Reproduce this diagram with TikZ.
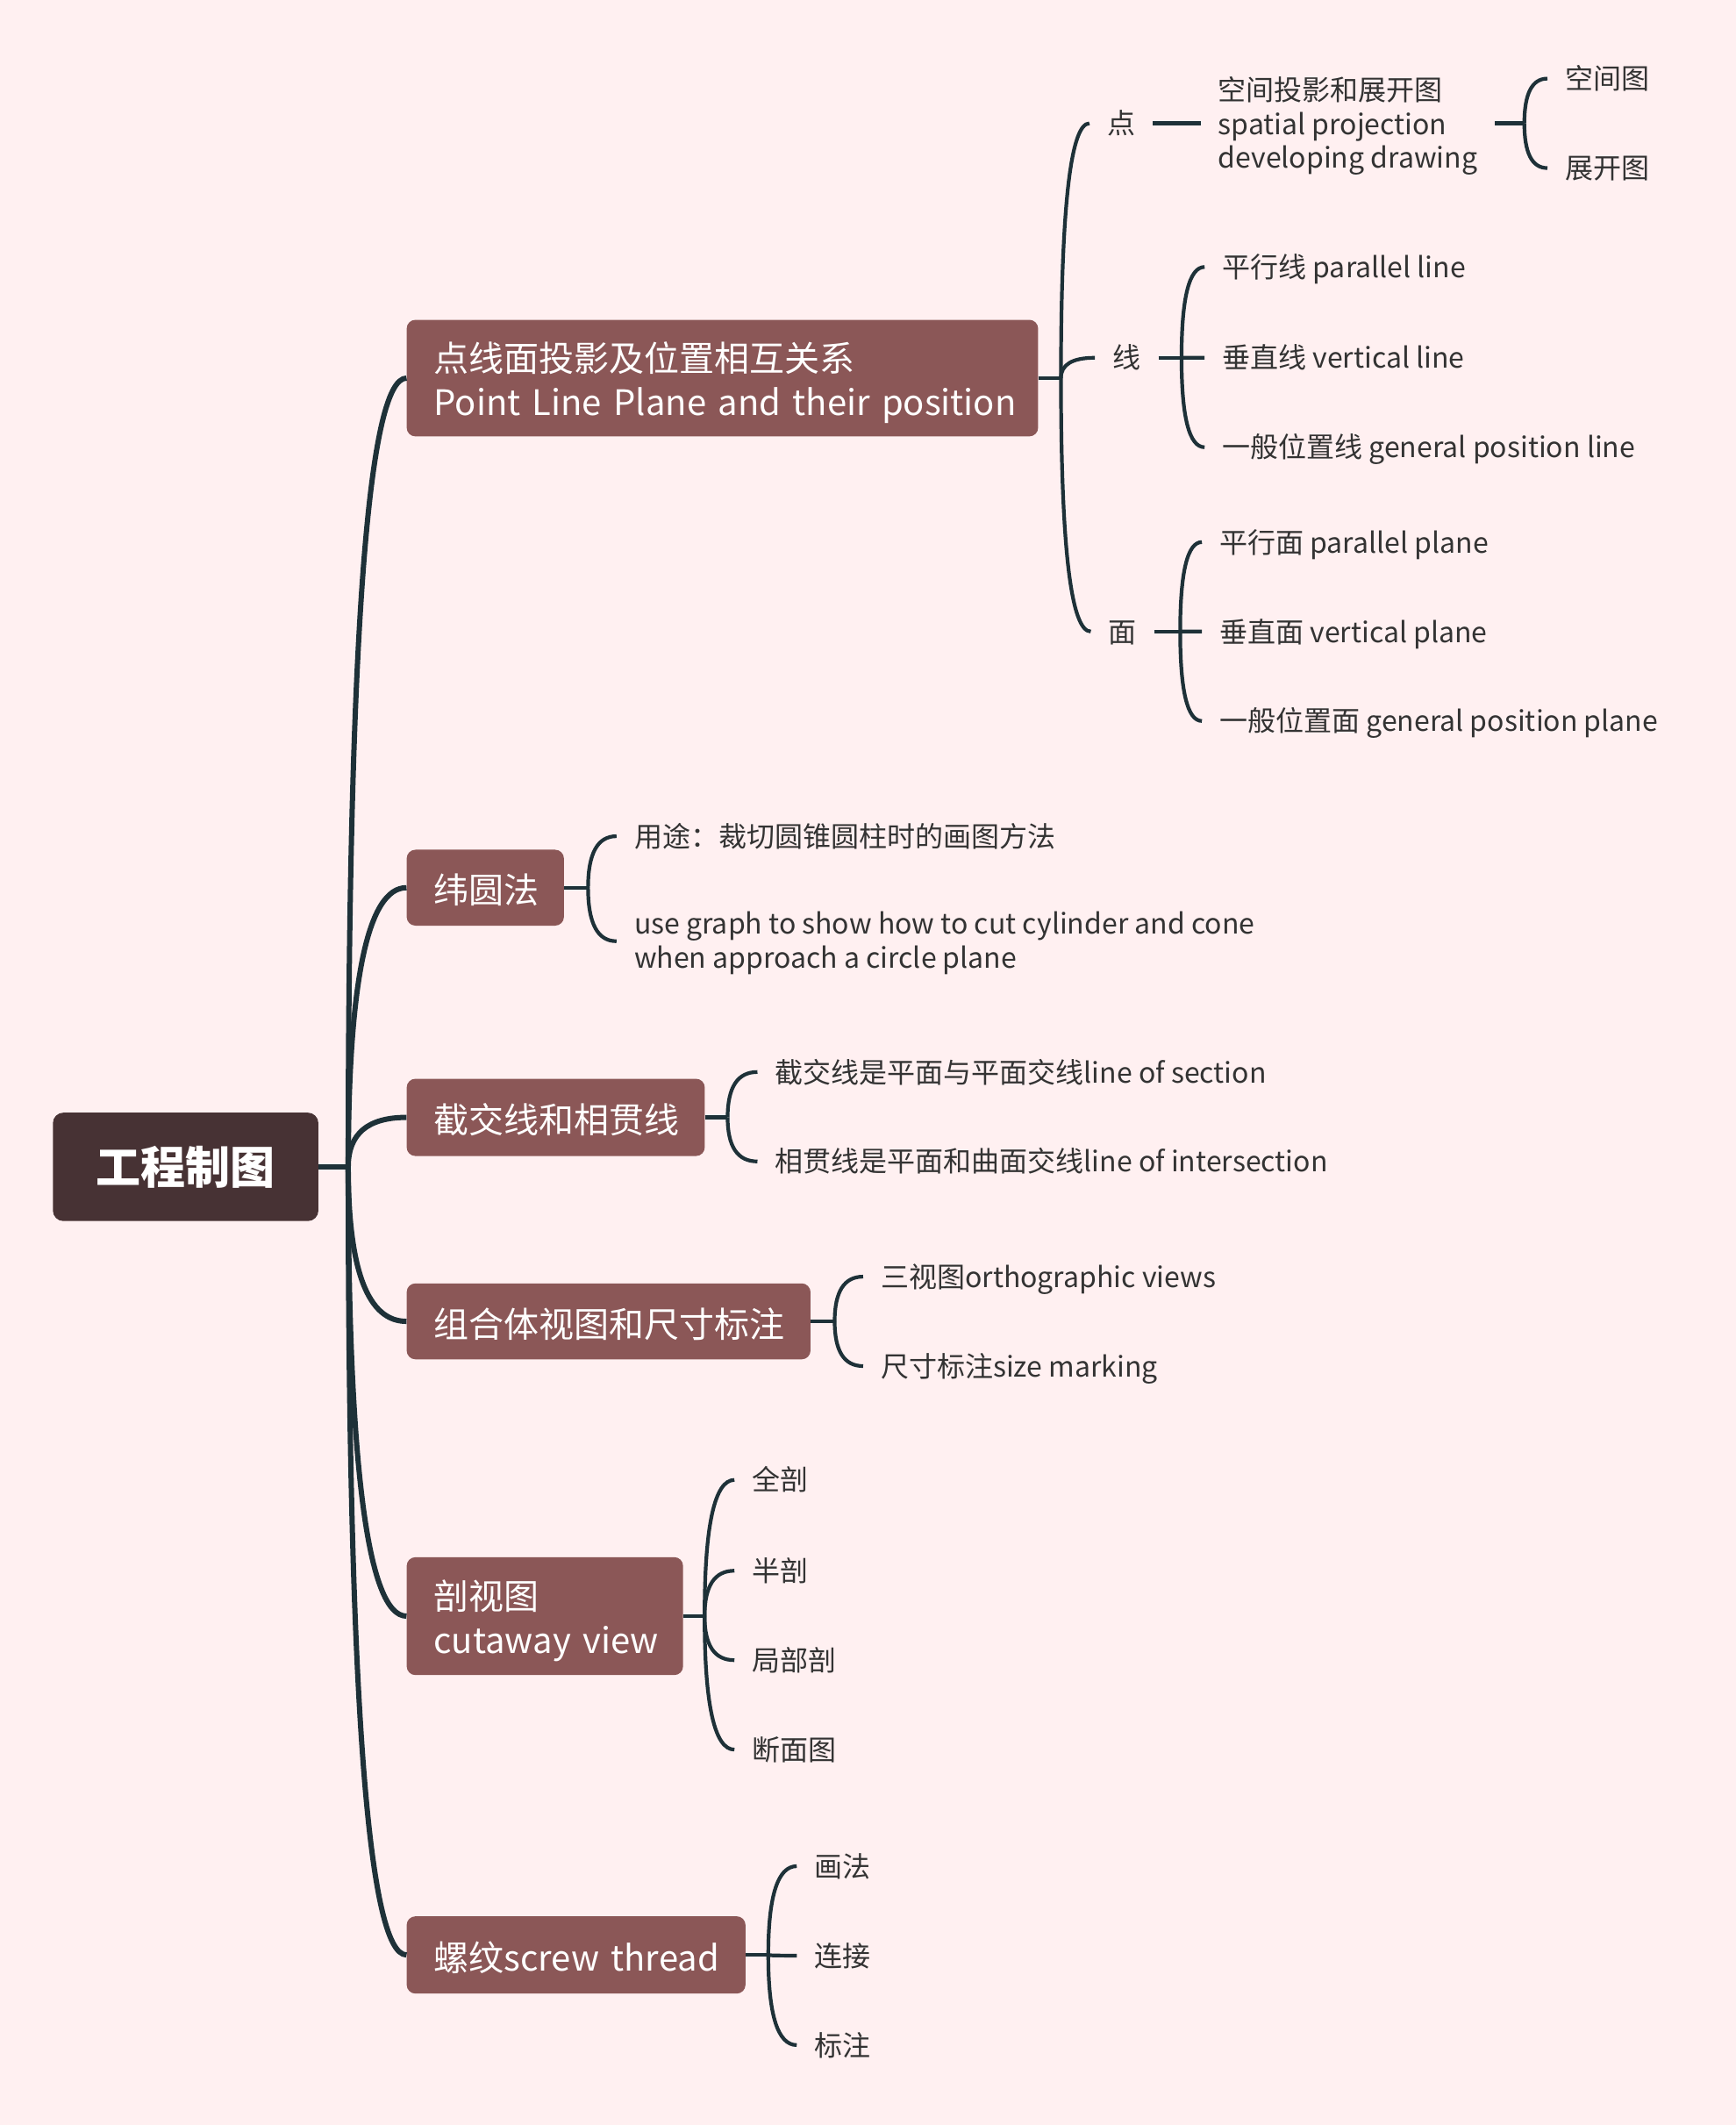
\documentclass[tikz,border=0pt]{standalone}
\usepackage{fontspec}
\setmainfont{Noto Sans CJK SC}
\usetikzlibrary{calc}
\definecolor{bgc}{RGB}{255,240,241}
\definecolor{brc}{RGB}{139,87,87}
\definecolor{rtc}{RGB}{71,50,52}
\definecolor{lnc}{RGB}{30,49,56}
\definecolor{txc}{RGB}{51,51,51}
\newcommand\qconn[3][]{\draw[#1] (#2) .. controls ($(#2)!0.6667!(#2 |- #3)$) and ($(#3)!0.6667!(#2 |- #3)$) .. (#3);}
\begin{document}
\begin{tikzpicture}[x=1.5441pt,y=-1.5441pt,
  rootbox/.style={fill=rtc, rounded corners=12pt, text=white,
    font=\fontsize{51}{60}\selectfont\bfseries, minimum width=302.6pt,
    minimum height=123.5pt, inner sep=0pt},
  brbox/.style={fill=brc, rounded corners=10pt, text=white,
    font=\fontsize{40}{49.4}\selectfont, inner xsep=30.9pt, inner ysep=0pt,
    anchor=west, align=left},
  brone/.style={brbox, text height=41pt, text depth=4.8pt},
  leaf/.style={text=txc, font=\fontsize{32}{38.6}\selectfont,
    inner xsep=20pt, inner ysep=0pt, anchor=west, align=left},
  leafone/.style={leaf, text height=28.2pt, text depth=3.8pt},
  rootline/.style={draw=lnc, line width=6pt},
  subline/.style={draw=lnc, line width=4.2pt}]
\fill[bgc] (0,0) rectangle (1281,1568);
\useasboundingbox (0,0) rectangle (1281,1568);

% root
\node[rootbox] (root) at (137,861) {工程制图};

% branches
\node[brbox, text width=657.8pt, minimum height=132.8pt] (b1) at (300,279)
  {\rule{0pt}{44pt}\mbox{点线面投影及位置相互关系}\\\mbox{Point Line Plane and their position}};
\node[brone, text width=117.4pt, minimum height=86.5pt] (b2) at (300,655) {\mbox{纬圆法}};
\node[brone, text width=277.9pt, minimum height=88pt] (b3) at (300,824.5) {\mbox{截交线和相贯线}};
\node[brone, text width=398.4pt, minimum height=86.5pt] (b4) at (300,975) {\mbox{组合体视图和尺寸标注}};
\node[brbox, text width=253.2pt, minimum height=134.3pt] (b5) at (300,1192.5)
  {\rule{0pt}{44pt}\mbox{剖视图}\\\mbox{cutaway view}};
\node[brone, text width=324.3pt, minimum height=88pt] (b6) at (300,1442.5) {\mbox{螺纹screw thread}};

% junctions
\coordinate (J0) at (257,861);
\coordinate (J1) at (783,279);
\coordinate (Jx) at (872,264);
\coordinate (Jm) at (871,466);
\coordinate (Jk) at (1125,91);
\coordinate (J2) at (434,655);
\coordinate (J3) at (537,824.5);
\coordinate (J4) at (616,975);
\coordinate (J5) at (520,1192.5);
\coordinate (J6) at (567,1442.5);

% level 2 of b1
\node[leafone] (dian) at (804,91) {点};
\node[leafone] (xian) at (808,264) {线};
\node[leafone] (mian) at (805,466) {面};
\node[leaf] (kj) at (886,91) {\rule{0pt}{33pt}空间投影和展开图\\spatial projection\\developing drawing};
\node[leafone] (kjt) at (1142,58) {空间图};
\node[leafone] (zkt) at (1142,124) {展开图};
\node[leafone] (l1) at (889,197) {平行线 parallel line};
\node[leafone] (l2) at (889,264) {垂直线 vertical line};
\node[leafone] (l3) at (889,330) {一般位置线 general position line};
\node[leafone] (m1) at (887,400) {平行面 parallel plane};
\node[leafone] (m2) at (887,466) {垂直面 vertical plane};
\node[leafone] (m3) at (887,532) {一般位置面 general position plane};

% b2
\node[leafone] (w1) at (455,617) {用途：裁切圆锥圆柱时的画图方法};
\node[leaf] (w2) at (455,694.5) {\rule{0pt}{30pt}use graph to show how to cut cylinder and cone\\when approach a circle plane};
% b3
\node[leafone] (s1) at (559,791) {截交线是平面与平面交线line of section};
\node[leafone] (s2) at (559,857) {相贯线是平面和曲面交线line of intersection};
% b4
\node[leafone] (z1) at (637,942) {三视图orthographic views};
\node[leafone] (z2) at (637,1008) {尺寸标注size marking};
% b5
\node[leafone] (c1) at (542,1092) {全剖};
\node[leafone] (c2) at (542,1159) {半剖};
\node[leafone] (c3) at (542,1225) {局部剖};
\node[leafone] (c4) at (542,1291) {断面图};
% b6
\node[leafone] (t1) at (588,1377) {画法};
\node[leafone] (t2) at (588,1443) {连接};
\node[leafone] (t3) at (588,1509) {标注};

% root connectors
\draw[rootline] (root.east) -- (J0);
\qconn[rootline]{J0}{b1.west}
\qconn[rootline]{J0}{b2.west}
\qconn[rootline]{J0}{b3.west}
\qconn[rootline]{J0}{b4.west}
\qconn[rootline]{J0}{b5.west}
\qconn[rootline]{J0}{b6.west}

% b1 connectors
\draw[subline] (b1.east) -- (J1);
\qconn[subline]{J1}{dian.west}
\qconn[subline]{J1}{xian.west}
\qconn[subline]{J1}{mian.west}
\draw[subline] (dian.east) -- (kj.west);
\draw[subline] (kj.east) -- (Jk);
\qconn[subline]{Jk}{kjt.west}
\qconn[subline]{Jk}{zkt.west}
\draw[subline] (xian.east) -- (Jx);
\qconn[subline]{Jx}{l1.west}
\qconn[subline]{Jx}{l2.west}
\qconn[subline]{Jx}{l3.west}
\draw[subline] (mian.east) -- (Jm);
\qconn[subline]{Jm}{m1.west}
\qconn[subline]{Jm}{m2.west}
\qconn[subline]{Jm}{m3.west}

% b2..b6 connectors
\draw[subline] (b2.east) -- (J2);
\qconn[subline]{J2}{w1.west}
\qconn[subline]{J2}{w2.west}
\draw[subline] (b3.east) -- (J3);
\qconn[subline]{J3}{s1.west}
\qconn[subline]{J3}{s2.west}
\draw[subline] (b4.east) -- (J4);
\qconn[subline]{J4}{z1.west}
\qconn[subline]{J4}{z2.west}
\draw[subline] (b5.east) -- (J5);
\qconn[subline]{J5}{c1.west}
\qconn[subline]{J5}{c2.west}
\qconn[subline]{J5}{c3.west}
\qconn[subline]{J5}{c4.west}
\draw[subline] (b6.east) -- (J6);
\qconn[subline]{J6}{t1.west}
\qconn[subline]{J6}{t2.west}
\qconn[subline]{J6}{t3.west}
\end{tikzpicture}
\end{document}
